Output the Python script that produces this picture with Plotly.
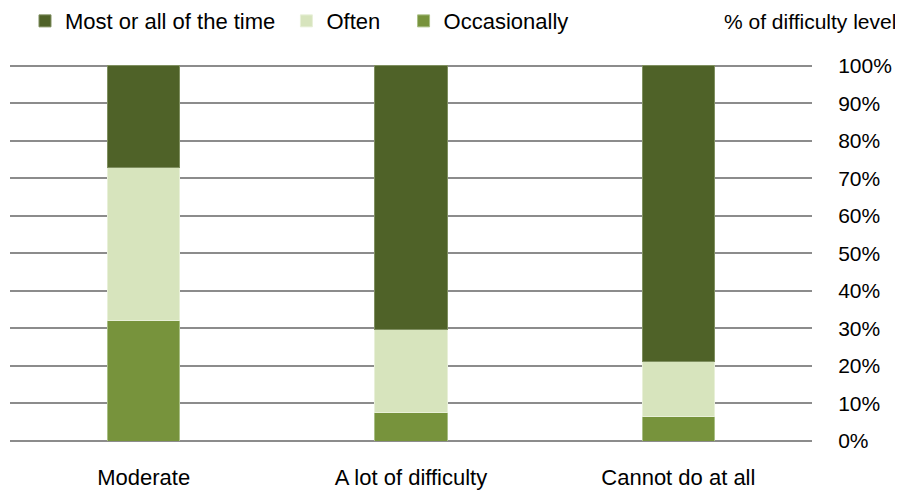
import plotly.graph_objects as go

categories = ["Moderate", "A lot of difficulty", "Cannot do at all"]
occasionally = [32.0, 7.5, 6.5]
often = [41.0, 22.3, 14.7]
most = [27.0, 70.2, 78.8]
tick_vals = [0, 10, 20, 30, 40, 50, 60, 70, 80, 90, 100]
tick_text = [f"{v}%" for v in tick_vals]

FONT = "Liberation Sans, Arial, sans-serif"
NB = "\u00a0"

fig = go.Figure()
fig.add_trace(go.Bar(name="Occasionally", x=categories, y=occasionally,
                     marker=dict(color="#77933c", line=dict(color="#a9bf85", width=1))))
fig.add_trace(go.Bar(name="Often" + NB * 3, x=categories, y=often,
                     marker=dict(color="#d7e4bd", line=dict(color="#e8f0d8", width=1))))
fig.add_trace(go.Bar(name="Most or all of the time" + NB, x=categories, y=most,
                     marker=dict(color="#4f6228", line=dict(color="#7f8f60", width=1))))

# page has an 8px body margin, so the figure is sized to fit the window
fig.update_layout(
    width=895, height=482,
    barmode="stack", bargap=0.73,
    plot_bgcolor="white", paper_bgcolor="white",
    margin=dict(l=2, r=91, t=54, b=49, autoexpand=False),
    font=dict(family=FONT, size=21, color="#000000"),
    legend=dict(orientation="h", traceorder="reversed", x=0.0187, xanchor="left",
                y=1.108, yanchor="middle", yref="paper",
                font=dict(size=22), itemwidth=30, tracegroupgap=0,
                bgcolor="rgba(0,0,0,0)"),
    showlegend=True,
)

fig.update_xaxes(showgrid=False, showline=False, zeroline=False, automargin=False,
                 ticks="outside", ticklen=17, tickcolor="rgba(0,0,0,0)",
                 tickfont=dict(size=22))
fig.update_yaxes(side="right", range=[0, 101], tickvals=tick_vals, ticktext=tick_text,
                 showgrid=True, gridcolor="#8c8c8c", gridwidth=2,
                 zeroline=True, zerolinecolor="#8c8c8c", zerolinewidth=2,
                 showline=False, automargin=False,
                 ticks="outside", ticklen=21, tickcolor="rgba(0,0,0,0)",
                 tickfont=dict(size=21))

fig.add_annotation(text="% of difficulty level", xref="paper", yref="paper",
                   x=1.1072, y=1.108, xanchor="right", yanchor="middle",
                   showarrow=False, font=dict(size=21))

fig.write_html("out.html")
